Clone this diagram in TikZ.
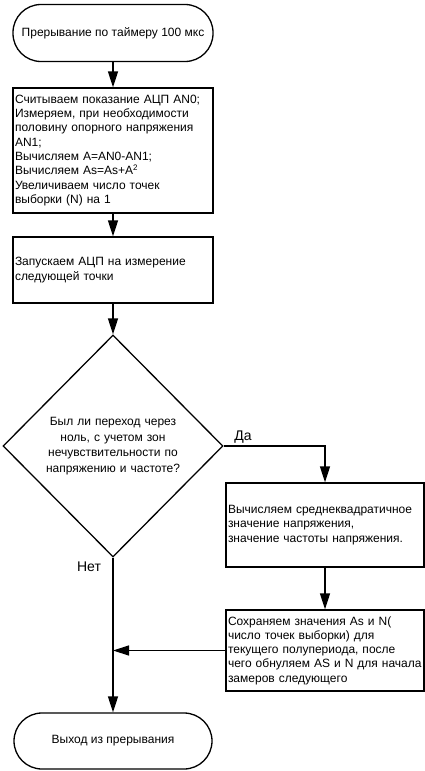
\documentclass[tikz,border=0pt]{standalone}
\usepackage{fontspec}
\setmainfont{Liberation Sans}
\usetikzlibrary{shapes.geometric,arrows.meta}

\begin{document}
\begin{tikzpicture}[x=1pt,y=-1pt,line width=1.3pt,
  every node/.style={font=\fontsize{12}{14.3}\selectfont},
  term/.style={draw,rounded corners=28pt,minimum width=200pt,minimum height=57pt},
  proc/.style={draw,rectangle,inner xsep=2pt,text width=196pt,align=left},
  decide/.style={draw,diamond,inner sep=0pt,minimum width=220pt,minimum height=222pt,
    text width=158pt,align=center,font=\fontsize{12}{15.5}\selectfont},
  lbl/.style={font=\fontsize{14}{16}\selectfont},
  arr/.style={-{Triangle[length=16pt,width=10pt]}}]
  \useasboundingbox (0,0) rectangle (425,771);
  \node[term] (start) at (113,33) {Прерывание по таймеру 100 мкс};
  \node[proc,minimum height=125pt] (read) at (113,150.5) {Считываем показание АЦП AN0;\\
    Измеряем, при необходимости\\ половину опорного напряжения\\ AN1;\\
    Вычисляем A=AN0-AN1;\\ Вычисляем As=As+A\textsuperscript{2}\\
    Увеличиваем число точек\\ выборки (N) на 1};
  \node[proc,minimum height=66pt] (launch) at (113,270) {Запускаем АЦП на измерение\\ следующей точки};
  \node[decide] (zero) at (113,446) {Был ли переход через\\ ноль, с учетом зон\\
    нечувствительности по\\ напряжению и частоте?};
  \node[proc,text width=194pt,minimum height=84pt] (calc) at (325,525) {Вычисляем среднеквадратичное\\
    значение напряжения,\\ значение частоты напряжения.};
  \node[proc,text width=194pt,minimum height=81pt] (save) at (325,650.5) {Сохраняем значения As и N(\\
    число точек выборки) для\\ текущего полупериода, после\\
    чего обнуляем AS и N для начала\\ замеров следующего};
  \node[term,minimum width=198pt,minimum height=56pt] (exit) at (113,741) {Выход из прерывания};
  \node[lbl] (yes) at (243,437) {Да};
  \node[lbl] (no) at (89,567) {Нет};
  \draw[arr] (start) -- (read);
  \draw[arr] (read) -- (launch);
  \draw[arr] (launch) -- (zero);
  \draw[arr] (zero.east) -| (calc.north);
  \draw[arr] (calc) -- (save);
  \draw[arr] (zero.south) -- (exit.north);
  \draw[arr] (save.west) -- (save.west -| zero.south);
\end{tikzpicture}
\end{document}
